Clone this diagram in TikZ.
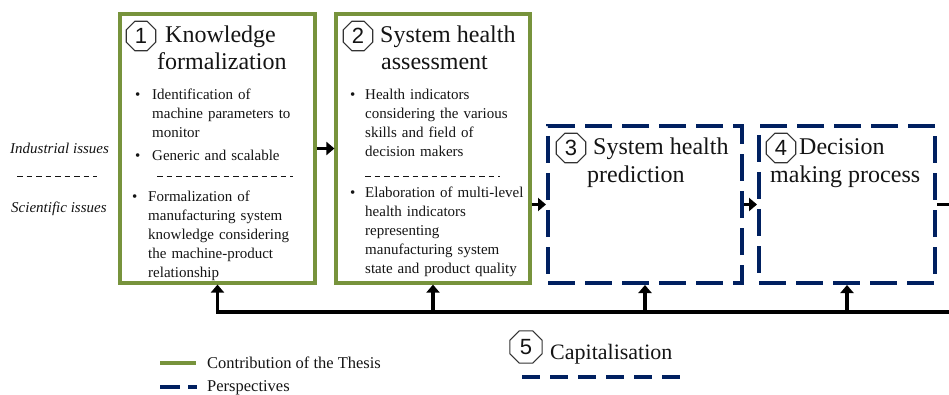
\documentclass[tikz,border=0pt]{standalone}
\usepackage{fontspec}
\setmainfont{Liberation Serif}
\newfontfamily\numfont{Liberation Sans}
\usetikzlibrary{shapes.geometric,arrows.meta}
\definecolor{thesisgreen}{RGB}{119,147,60}
\definecolor{persnavy}{RGB}{0,32,96}
\definecolor{txt}{RGB}{20,20,20}
\begin{document}
\begin{tikzpicture}[x=1pt,y=-1pt,
  gbox/.style={draw=thesisgreen, line width=3.2pt, inner sep=0pt},
  nbox/.style={draw=persnavy, line width=4pt, dash pattern=on 27pt off 10pt, inner sep=0pt},
  oct/.style={regular polygon, regular polygon sides=8, draw=black!80, line width=1.1pt,
    minimum size=32pt, inner sep=0pt, text=txt, font=\numfont\fontsize{22}{22}\selectfont},
  ttl/.style={anchor=base west, inner sep=0pt, text=txt, font=\fontsize{24}{27}\selectfont},
  bodytxt/.style={anchor=base west, inner sep=0pt, align=left, text width=200pt, text=txt,
    font=\fontsize{15}{19}\selectfont},
  bul/.style={anchor=base west, inner sep=0pt, text=txt, font=\fontsize{15}{19}\selectfont},
  issue/.style={anchor=base west, inner sep=0pt, text=txt, font=\itshape\fontsize{15}{19}\selectfont},
  sep/.style={draw=txt, line width=0.9pt, dash pattern=on 5.5pt off 4pt},
  arr/.style={draw=black, line width=3.5pt, -{Triangle[length=8pt,width=13pt]}},
  legtxt/.style={anchor=base west, inner sep=0pt, text=txt, font=\fontsize{16.5}{20}\selectfont}
]
\useasboundingbox (0,0) rectangle (949,395);

% boxes
\node[gbox, minimum width=195pt, minimum height=269pt] (box1) at (217.5,148.5) {};
\node[gbox, minimum width=194pt, minimum height=269pt] (box2) at (433,148.5) {};
\node[nbox, minimum width=194pt, minimum height=157pt] (box3) at (645,204.5) {};
\node[nbox, minimum width=176pt, minimum height=157pt] (box4) at (847,204.5) {};

% box 1
\node[oct] (o1) at (141,36) {1};
\node[ttl] (t1a) at (165,43) {Knowledge};
\node[ttl] (t1b) at (157,70) {formalization};
\node[bul] (u1a) at (135,100) {\textbullet};
\node[bodytxt] (x1a) at (152,100) {Identification of\\machine parameters to\\monitor};
\node[bul] (u1b) at (135,161) {\textbullet};
\node[bodytxt] (x1b) at (152,161) {Generic and scalable};
\coordinate (s1a) at (157,176);
\coordinate (s1b) at (293,176);
\draw[sep] (s1a) -- (s1b);
\node[bul] (u1c) at (132,202) {\textbullet};
\node[bodytxt] (x1c) at (148,202) {Formalization of\\manufacturing system\\knowledge considering\\the machine-product\\relationship};

% box 2
\node[oct] (o2) at (358,36) {2};
\node[ttl] (t2a) at (380,43) {System health};
\node[ttl] (t2b) at (381,70) {assessment};
\node[bul] (u2a) at (350,100) {\textbullet};
\node[bodytxt] (x2a) at (365,100) {Health indicators\\considering the various\\skills and field of\\decision makers};
\coordinate (s2a) at (365,176);
\coordinate (s2b) at (500,176);
\draw[sep] (s2a) -- (s2b);
\node[bul] (u2b) at (350,198) {\textbullet};
\node[bodytxt] (x2b) at (365,198) {Elaboration of multi-level\\health indicators\\representing\\manufacturing system\\state and product quality};

% box 3
\node[oct] (o3) at (571,148) {3};
\node[ttl] (t3a) at (593,155) {System health};
\node[ttl] (t3b) at (587,183) {prediction};

% box 4
\node[oct] (o4) at (781,148) {4};
\node[ttl] (t4a) at (799,155) {Decision};
\node[ttl] (t4b) at (770,183) {making process};

% left labels
\node[issue] (ind) at (10,154) {Industrial issues};
\node[issue] (sci) at (11,212) {Scientific issues};
\coordinate (sla) at (17,176);
\coordinate (slb) at (97,176);
\draw[sep] (sla) -- (slb);

% connectors
\draw[arr] (box1.east) -- (box2.west);
\draw[arr] (box2.east |- box3.west) -- (box3.west);
\draw[arr] (box3.east) -- (box4.west);
\coordinate (outR) at (949,204.5);
\draw[draw=black, line width=3.5pt] (box4.east) -- (outR);

\coordinate (busR) at (949,312);
\draw[arr, line join=miter] (busR) -- (busR -| box1.south) -- (box1.south);
\draw[arr] (box2.south |- busR) -- (box2.south);
\draw[arr] (box3.south |- busR) -- (box3.south);
\draw[arr] (box4.south |- busR) -- (box4.south);

% capitalisation
\node[oct, minimum size=35pt] (o5) at (526,347) {5};
\node[ttl, font=\fontsize{22}{26}\selectfont] (cap) at (550,359) {Capitalisation};
\coordinate (cla) at (522,377);
\coordinate (clb) at (680,377);
\draw[draw=persnavy, line width=4pt, dash pattern=on 18pt off 10pt] (cla) -- (clb);

% legend
\coordinate (lga) at (160,363);
\coordinate (lgb) at (196,363);
\draw[draw=thesisgreen, line width=3.5pt] (lga) -- (lgb);
\node[legtxt] (lgt1) at (207,368) {Contribution of the Thesis};
\coordinate (lpa) at (160,387);
\coordinate (lpb) at (197,387);
\draw[draw=persnavy, line width=4pt, dash pattern=on 20pt off 8pt] (lpa) -- (lpb);
\node[legtxt] (lgt2) at (207,391) {Perspectives};
\end{tikzpicture}
\end{document}
